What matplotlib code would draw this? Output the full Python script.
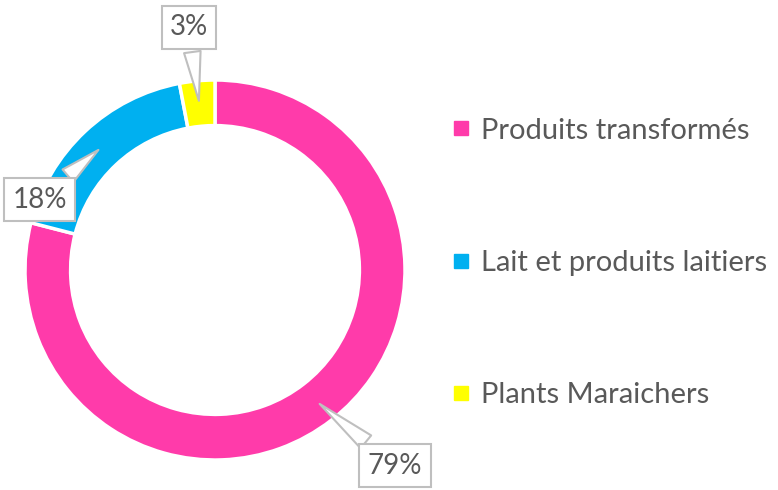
import matplotlib
matplotlib.use("Agg")
import matplotlib.pyplot as plt
import numpy as np
from matplotlib.lines import Line2D

categories = ["Produits transformés", "Lait et produits laitiers", "Plants Maraichers"]
values = [79, 18, 3]
labels = ["79%", "18%", "3%"]
colors = ["#FF3BAA", "#00B0F0", "#FFFF00"]

plt.rcParams['font.family'] = ['Lato', 'DejaVu Sans']
txt_color = "#595959"

fig = plt.figure(figsize=(7.78, 4.90), dpi=100)
W, H = 778, 490
cx, cy, R = 215, 270, 190
ax = fig.add_axes([(cx - R) / W, (H - cy - R) / H, 2 * R / W, 2 * R / H])
ax.set_aspect('equal')
wedges, _ = ax.pie(values, colors=colors, startangle=90, counterclock=False,
                   radius=1, wedgeprops=dict(width=0.24, edgecolor='white', linewidth=2.5))
ax.set_xlim(-1, 1)
ax.set_ylim(-1, 1)

# callout text offsets (data units) per label
offsets = {"79%": (0.947, -1.03), "18%": (-0.922, 0.37), "3%": (-0.137, 1.278)}
for w, lab in zip(wedges, labels):
    mid = np.deg2rad((w.theta1 + w.theta2) / 2)
    xy = (0.88 * np.cos(mid), 0.88 * np.sin(mid))
    ax.annotate(lab, xy=xy, xytext=offsets[lab], ha='center', va='center',
                fontsize=20, color=txt_color, annotation_clip=False,
                bbox=dict(boxstyle='square,pad=0.3', fc='white', ec='#BFBFBF', lw=1.5),
                arrowprops=dict(arrowstyle='wedge,tail_width=0.6,shrink_factor=0.5',
                                fc='white', ec='#BFBFBF', lw=1.5))

handles = [Line2D([], [], marker='s', linestyle='none', markersize=9.5,
                  markerfacecolor=c, markeredgecolor=c) for c in colors]
leg = fig.legend(handles, categories, loc='center left', bbox_to_anchor=(449 / W, (H - 263) / H),
                 frameon=False, fontsize=21, labelspacing=3.65, handletextpad=0.3,
                 handlelength=0.8, labelcolor=txt_color, borderaxespad=0, borderpad=0)

fig.savefig("out.png", dpi=100)
